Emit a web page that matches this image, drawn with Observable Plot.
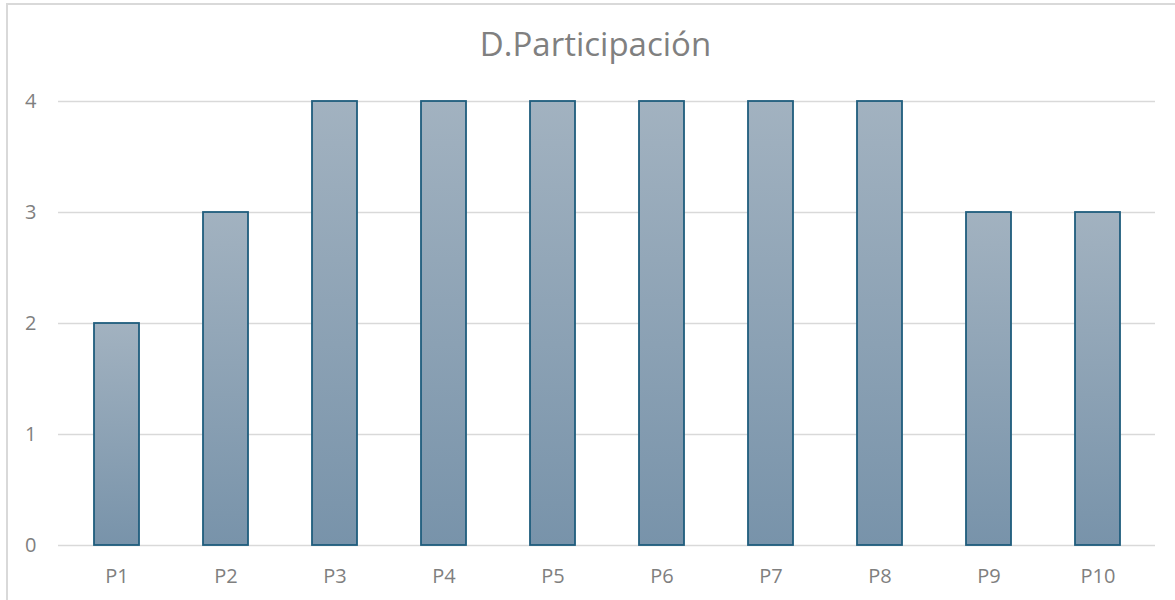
<!DOCTYPE html>
<html>
<head>
<meta charset="utf-8">
<script src="https://cdn.jsdelivr.net/npm/d3@7"></script>
<script src="https://cdn.jsdelivr.net/npm/@observablehq/plot@0.6"></script>
<style>
  html, body { margin: 0; padding: 0; background: #fff; width: 1175px; height: 600px; overflow: hidden; }
  #frame { position: absolute; left: 6px; top: 3px; width: 1200px; height: 700px; border-left: 2px solid #d9d9d9; border-top: 2px solid #d9d9d9; box-sizing: border-box; }
  #title { position: absolute; left: 8px; top: 24px; width: 1175px; text-align: center; font-family: "Open Sans", sans-serif; font-size: 33px; line-height: 40px; color: #808080; }
  #chart { position: absolute; left: 0; top: 80px; }
  #chart svg text { font-size: 20px !important; font-family: "Open Sans", sans-serif; fill: #7f7f7f; }
</style>
</head>
<body>
<div id="frame"></div>
<div id="title">D.Participación</div>
<div id="chart"></div>
<script>
const categories = ["P1", "P2", "P3", "P4", "P5", "P6", "P7", "P8", "P9", "P10"];
const values = [2, 3, 4, 4, 4, 4, 4, 4, 3, 3];
const yTicks = [0, 1, 2, 3, 4];

const data = categories.map((c, i) => ({cat: c, val: values[i]}));

const plot = Plot.plot({
  width: 1175,
  height: 520,
  marginLeft: 58,
  marginRight: 20,
  marginTop: 21,
  marginBottom: 55,
  style: {fontFamily: "'Open Sans', sans-serif", fontSize: "20px", color: "#7f7f7f", background: "transparent"},
  x: {domain: categories, paddingInner: 0.59, paddingOuter: 0.295, label: null},
  y: {domain: [0, 4], ticks: yTicks, label: null},
  marks: [
    Plot.gridY(yTicks, {stroke: "#d9d9d9", strokeOpacity: 1, strokeWidth: 1.5}),
    Plot.barY(data, {x: "cat", y: "val", fill: "url(#barGrad)", stroke: "#1f5d7d", strokeWidth: 1.8}),
    Plot.axisX({tickSize: 0, tickPadding: 23, fontSize: 20, label: null}),
    Plot.axisY(yTicks, {tickSize: 0, tickPadding: 22, fontSize: 20, label: null, tickFormat: d3.format("d")})
  ]
});

const ns = "http://www.w3.org/2000/svg";
const defs = document.createElementNS(ns, "defs");
const grad = document.createElementNS(ns, "linearGradient");
grad.setAttribute("id", "barGrad");
grad.setAttribute("x1", "0"); grad.setAttribute("y1", "0");
grad.setAttribute("x2", "0"); grad.setAttribute("y2", "1");
[["0%", "#a2b2c0"], ["100%", "#7893aa"]].forEach(([o, c]) => {
  const s = document.createElementNS(ns, "stop");
  s.setAttribute("offset", o); s.setAttribute("stop-color", c);
  grad.appendChild(s);
});
defs.appendChild(grad);
plot.insertBefore(defs, plot.firstChild);
document.getElementById("chart").appendChild(plot);
</script>
</body>
</html>
